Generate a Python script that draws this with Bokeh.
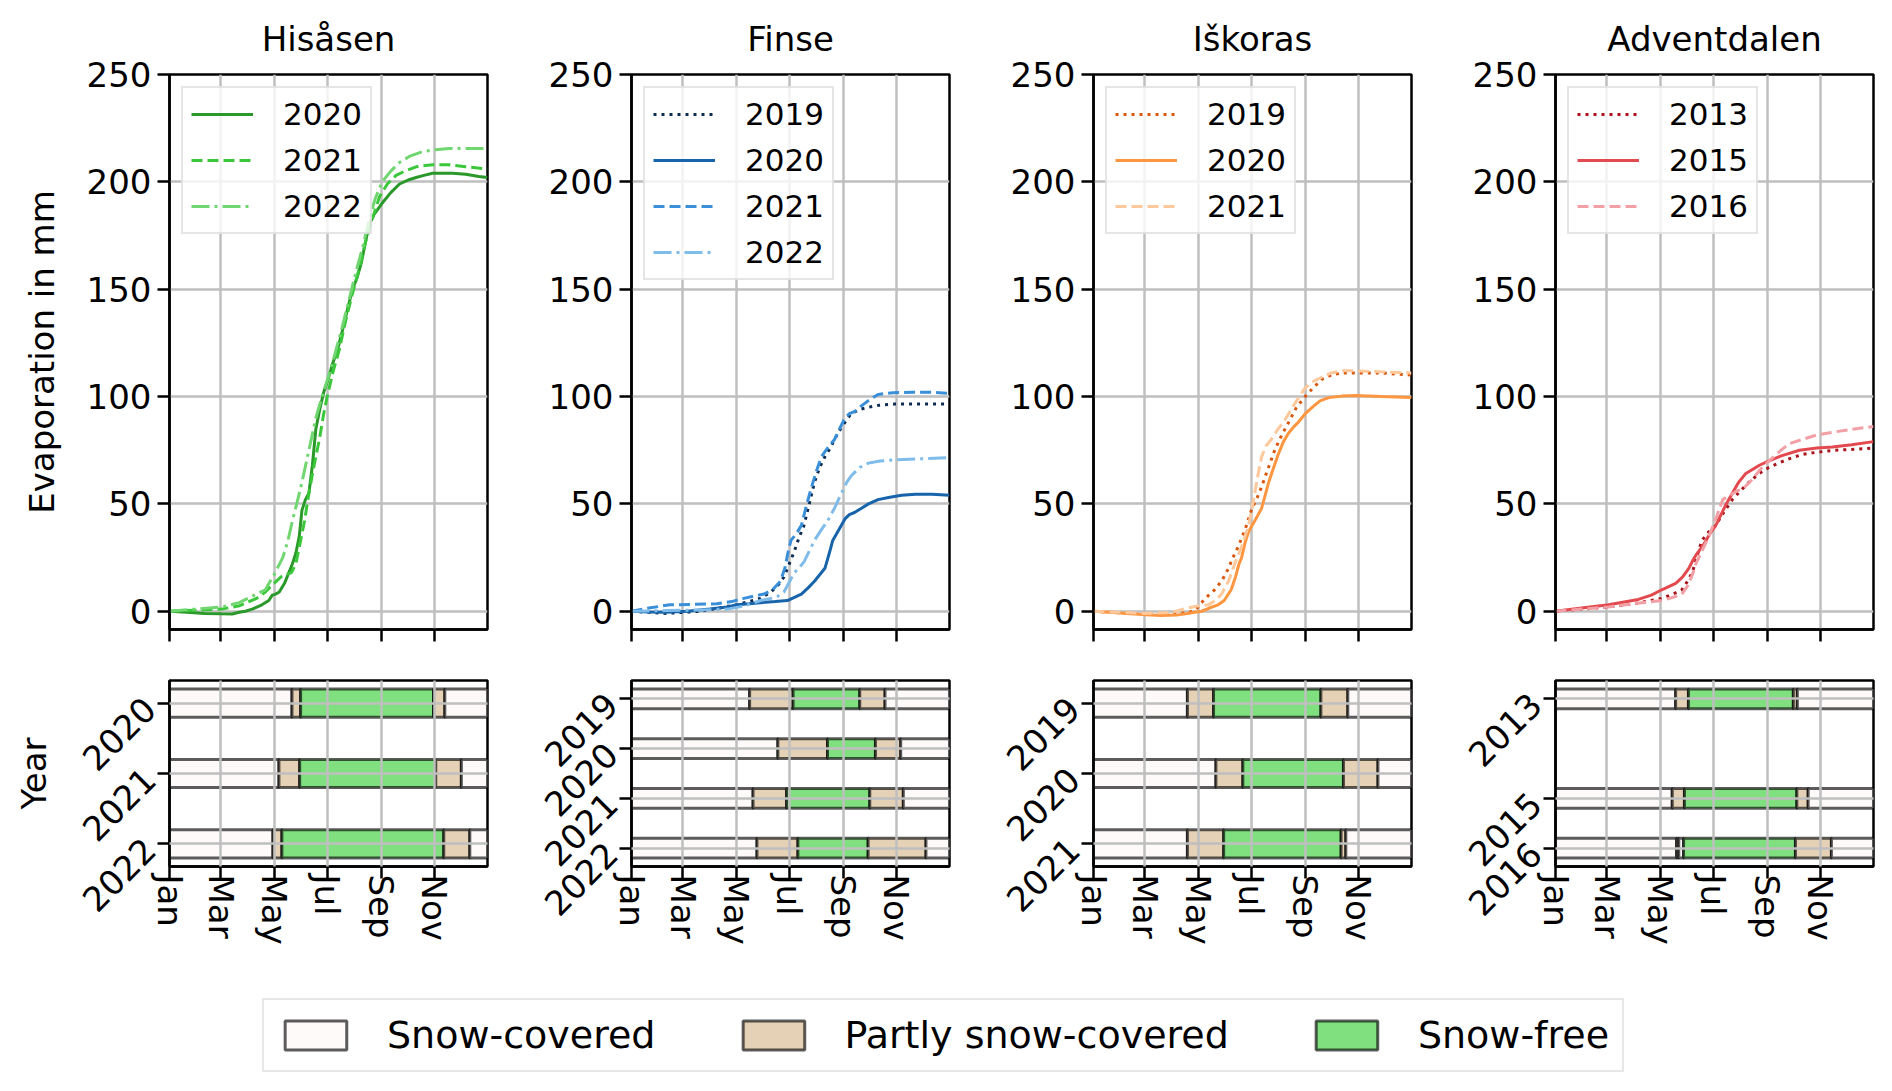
import math
from bokeh.plotting import figure
from bokeh.models import Range1d, FixedTicker, Legend, LegendItem, ColumnDataSource
from bokeh.layouts import row, column
from bokeh.embed import file_html
from bokeh.resources import INLINE

# ---------------- data ----------------
MONTH_TICKS = [0, 59, 120, 181, 243, 304]
MONTH_LABELS = ["Jan", "Mar", "May", "Jul", "Sep", "Nov"]
EVAP_TICKS = [0, 50, 100, 150, 200, 250]
SITES = ["Hisåsen", "Finse", "Iškoras", "Adventdalen"]
STATE_NAMES = ["Snow-covered", "Partly snow-covered", "Snow-free"]

# Hisåsen
HIS_YEARS = [2020, 2021, 2022]
HIS_2020_DAY = [0, 20, 40, 60, 72, 80, 87, 95, 106, 114, 118, 122, 126, 132, 137, 141, 145, 149, 152, 156, 160, 164, 168, 173, 177, 182, 187, 193, 198, 204, 210, 215, 220, 225, 229, 235, 244, 254, 264, 275, 283, 292, 302, 315, 325, 340, 355, 365]
HIS_2020_EVAP = [0, -0.5, -1, -1.2, -1.3, -0.5, 0, 1, 3, 5, 7.5, 8, 9, 13, 18, 22, 27, 35, 47, 52, 55, 68, 85, 95, 102, 108, 115, 122, 130, 140, 150, 155, 162, 172, 180, 185, 190, 195, 199, 201, 202, 203, 204, 204, 204, 203.5, 202.5, 202]
HIS_2021_DAY = [0, 30, 60, 80, 100, 110, 120, 128, 134, 140, 145, 149, 155, 160, 166, 172, 177, 181, 188, 195, 202, 210, 218, 225, 233, 241, 250, 260, 270, 283, 302, 320, 340, 365]
HIS_2021_EVAP = [0, 0.5, 1, 2.5, 6, 9, 13, 16, 17, 18, 22, 30, 42, 55, 68, 80, 92, 100, 112, 122, 135, 148, 160, 172, 183, 193, 199, 203, 205, 207, 208, 208, 207, 206]
HIS_2022_DAY = [0, 30, 60, 80, 95, 110, 120, 130, 136, 141, 146, 152, 160, 168, 175, 183, 190, 198, 206, 214, 222, 229, 236, 244, 254, 264, 276, 290, 305, 321, 340, 365]
HIS_2022_EVAP = [0, 1, 2, 4, 7, 10, 17, 25, 33, 42, 50, 60, 75, 90, 100, 110, 120, 132, 145, 158, 170, 182, 192, 200, 205, 209, 212, 214, 215, 215.5, 215.5, 215.5]

# Finse
FIN_YEARS = [2019, 2020, 2021, 2022]
FIN_2019_DAY = [0, 20, 40, 60, 80, 100, 121, 135, 148, 160, 168, 175, 179, 183, 187, 192, 198, 204, 210, 216, 222, 228, 233, 240, 245, 252, 262, 272, 285, 302, 330, 365]
FIN_2019_EVAP = [0, -0.5, -1, -0.5, 0, 1.5, 3, 4.5, 6, 9, 12, 16, 20, 24, 28, 34, 40, 50, 60, 67, 72, 76, 80, 85, 88, 92, 94, 95, 96, 96.5, 96.5, 96.5]
FIN_2020_DAY = [0, 20, 40, 64, 90, 110, 121, 135, 148, 165, 179, 187, 195, 203, 210, 216, 222, 227, 231, 238, 245, 250, 256, 264, 272, 283, 295, 310, 326, 345, 365]
FIN_2020_EVAP = [0, -0.3, -0.5, 0, 1, 2, 3, 3.5, 4, 4.5, 5, 6.5, 8, 11, 14, 17, 20, 27, 33, 38, 43, 45, 46, 48, 50, 52, 53, 54, 54.5, 54.5, 54]
FIN_2021_DAY = [0, 20, 44, 70, 98, 115, 129, 140, 152, 162, 171, 176, 180, 183, 189, 195, 200, 206, 212, 218, 225, 233, 240, 245, 250, 256, 265, 275, 283, 300, 322, 345, 365]
FIN_2021_EVAP = [0, 1.5, 3, 3.2, 3.5, 4.5, 6, 7, 8, 10, 14, 20, 28, 33, 36, 40, 48, 57, 65, 72, 76, 80, 86, 90, 92, 93, 96, 99, 101, 101.8, 102, 102, 101.5]
FIN_2022_DAY = [0, 40, 80, 110, 130, 148, 160, 168, 175, 179, 183, 187, 192, 198, 204, 210, 218, 225, 233, 241, 247, 252, 262, 272, 285, 302, 330, 365]
FIN_2022_EVAP = [0, 0.3, 0.6, 1, 2.5, 5, 6, 7, 9, 12, 15, 18, 20, 23, 28, 33, 38, 42, 48, 55, 60, 63, 67, 69, 70, 70.5, 71, 71.5]

# Iškoras
ISK_YEARS = [2019, 2020, 2021]
ISK_2019_DAY = [0, 30, 60, 80, 100, 110, 118, 124, 131, 139, 147, 155, 160, 166, 174, 182, 188, 193, 200, 208, 216, 224, 233, 243, 252, 262, 273, 285, 300, 330, 365]
ISK_2019_EVAP = [0, -0.7, -1.3, -1.5, -1, -0.5, 1, 4, 7, 10, 14, 20, 25, 30, 38, 48, 53, 58, 66, 75, 82, 88, 95, 100, 104, 108, 110, 111, 111, 111, 110]
ISK_2020_DAY = [0, 30, 60, 78, 95, 108, 116, 124, 133, 143, 150, 158, 163, 167, 170, 174, 178, 182, 185, 189, 193, 197, 201, 206, 212, 218, 224, 230, 235, 243, 251, 260, 270, 285, 301, 330, 365]
ISK_2020_EVAP = [0, -0.8, -1.6, -2, -1.8, -1, -0.5, 0, 1.5, 3, 5, 10, 16, 22, 25, 32, 37, 40, 42, 45, 48, 54, 60, 66, 73, 79, 83, 86, 88, 92, 95, 98, 99.5, 100.2, 100.5, 100, 99.5]
ISK_2021_DAY = [0, 30, 60, 90, 108, 120, 132, 140, 147, 155, 162, 170, 178, 182, 185, 189, 193, 198, 204, 212, 218, 224, 233, 243, 252, 262, 273, 285, 300, 330, 365]
ISK_2021_EVAP = [0, -0.5, -1, -0.5, 1.5, 2.5, 3, 5, 8, 14, 22, 30, 40, 48, 55, 64, 72, 77, 80, 85, 88, 92, 98, 104, 107, 109, 111, 112, 112, 111.5, 111]

# Adventdalen
ADV_YEARS = [2013, 2015, 2016]
ADV_2013_DAY = [0, 30, 61, 90, 122, 135, 145, 150, 157, 162, 168, 176, 184, 193, 203, 212, 222, 233, 245, 256, 268, 283, 299, 320, 345, 365]
ADV_2013_EVAP = [0, 1, 2, 3.5, 6, 8, 10, 13, 18, 25, 33, 37, 40, 46, 52, 56, 60, 64, 67, 69, 71, 73, 74, 75, 75.5, 76]
ADV_2015_DAY = [0, 30, 61, 95, 110, 122, 130, 138, 146, 153, 158, 161, 170, 177, 184, 190, 196, 203, 210, 218, 226, 234, 245, 260, 280, 300, 318, 340, 365]
ADV_2015_EVAP = [0, 1.5, 3, 5.5, 7.5, 10, 11.5, 13, 16, 20, 24, 26, 31, 36, 40, 45, 50, 55, 60, 64, 66, 68, 70, 72.5, 75, 76, 76.5, 77.5, 79]
ADV_2016_DAY = [0, 30, 61, 90, 122, 135, 145, 152, 158, 161, 168, 176, 184, 192, 200, 208, 215, 225, 235, 245, 256, 268, 283, 299, 320, 345, 365]
ADV_2016_EVAP = [0, 1, 2, 3.5, 5, 6.5, 8, 12, 18, 22, 28, 35, 43, 52, 54, 56, 57, 61, 66, 70, 74, 78, 80, 82, 83.5, 85, 86]

# snow-cover periods (state index: 0 snow-covered, 1 partly, 2 snow-free)
HIS_SEG_YEAR = [2020] * 5 + [2021] * 5 + [2022] * 5
HIS_SEG_START = [0, 140.6, 150.5, 303, 316, 0, 125.6, 149.4, 305.6, 335, 0, 118.7, 129, 314.8, 344.7]
HIS_SEG_END = [140.6, 150.5, 303, 316, 365, 125.6, 149.4, 305.6, 335, 365, 118.7, 129, 314.8, 344.7, 365]
HIS_SEG_STATE = [0, 1, 2, 1, 0] * 3

FIN_SEG_YEAR = [2019] * 5 + [2020] * 5 + [2021] * 5 + [2022] * 5
FIN_SEG_START = [0, 135.6, 185.5, 262, 291, 0, 168, 225, 280, 309, 0, 139.5, 178, 273.5, 312, 0, 144, 191, 271.6, 338]
FIN_SEG_END = [135.6, 185.5, 262, 291, 365, 168, 225, 280, 309, 365, 139.5, 178, 273.5, 312, 365, 144, 191, 271.6, 338, 365]
FIN_SEG_STATE = [0, 1, 2, 1, 0] * 4

ISK_SEG_YEAR = [2019] * 5 + [2020] * 5 + [2021] * 5
ISK_SEG_START = [0, 107.8, 137.8, 261, 291.9, 0, 140.5, 171.4, 286.9, 326.5, 0, 107.8, 149.4, 284.2, 289.6]
ISK_SEG_END = [107.8, 137.8, 261, 291.9, 365, 140.5, 171.4, 286.9, 326.5, 365, 107.8, 149.4, 284.2, 289.6, 365]
ISK_SEG_STATE = [0, 1, 2, 1, 0] * 3

ADV_SEG_YEAR = [2013] * 5 + [2015] * 5 + [2016] * 6
ADV_SEG_START = [0, 137.9, 152.6, 273, 277.6, 0, 134, 148, 277, 290, 0, 139, 141.5, 147, 275.4, 316.7]
ADV_SEG_END = [137.9, 152.6, 273, 277.6, 365, 134, 148, 277, 290, 365, 139, 141.5, 147, 275.4, 316.7, 365]
ADV_SEG_STATE = [0, 1, 2, 1, 0, 0, 1, 2, 1, 0, 0, 1, 0, 2, 1, 0]

# ---------------- styles ----------------
FONT = "DejaVu Sans"
TICK_PX = "34px"
STATE_COLORS = ["#fffafa", "#e5d2b6", "#80e080"]
LINE_DASHES = {"dotted": "3 5", "solid": "solid", "dashed": "11 5", "dashdot": "18 5 3 5"}

SITE_SERIES = [
    [(HIS_2020_DAY, HIS_2020_EVAP, "2020", "#2a992a", "solid"),
     (HIS_2021_DAY, HIS_2021_EVAP, "2021", "#3ac83a", "dashed"),
     (HIS_2022_DAY, HIS_2022_EVAP, "2022", "#70d670", "dashdot")],
    [(FIN_2019_DAY, FIN_2019_EVAP, "2019", "#0d2c54", "dotted"),
     (FIN_2020_DAY, FIN_2020_EVAP, "2020", "#1764ab", "solid"),
     (FIN_2021_DAY, FIN_2021_EVAP, "2021", "#3a8fd9", "dashed"),
     (FIN_2022_DAY, FIN_2022_EVAP, "2022", "#7fbce9", "dashdot")],
    [(ISK_2019_DAY, ISK_2019_EVAP, "2019", "#d9560b", "dotted"),
     (ISK_2020_DAY, ISK_2020_EVAP, "2020", "#fd9640", "solid"),
     (ISK_2021_DAY, ISK_2021_EVAP, "2021", "#fdc89b", "dashed")],
    [(ADV_2013_DAY, ADV_2013_EVAP, "2013", "#a8141b", "dotted"),
     (ADV_2015_DAY, ADV_2015_EVAP, "2015", "#e34a4f", "solid"),
     (ADV_2016_DAY, ADV_2016_EVAP, "2016", "#f2a0a5", "dashed")],
]
SITE_YEARS = [HIS_YEARS, FIN_YEARS, ISK_YEARS, ADV_YEARS]
SITE_SEGS = [
    (HIS_SEG_YEAR, HIS_SEG_START, HIS_SEG_END, HIS_SEG_STATE),
    (FIN_SEG_YEAR, FIN_SEG_START, FIN_SEG_END, FIN_SEG_STATE),
    (ISK_SEG_YEAR, ISK_SEG_START, ISK_SEG_END, ISK_SEG_STATE),
    (ADV_SEG_YEAR, ADV_SEG_START, ADV_SEG_END, ADV_SEG_STATE),
]

FRAME_W = 318
BORDER_L = [169, 110, 110, 110]
BORDER_R = [34, 34, 34, 6]
BAR_H = 0.4


def style(p):
    for ax in p.axis:
        ax.axis_line_width = 2.5
        ax.axis_line_color = "black"
        ax.major_tick_line_width = 2.5
        ax.major_tick_line_color = "black"
        ax.major_tick_out = 12
        ax.major_tick_in = 0
        ax.minor_tick_line_color = None
        ax.major_label_text_font = FONT
        ax.major_label_text_font_size = TICK_PX
        ax.major_label_text_color = "black"
        ax.axis_label_text_font = FONT
        ax.axis_label_text_font_size = TICK_PX
        ax.axis_label_text_font_style = "normal"
        ax.axis_label_text_color = "black"
    p.outline_line_color = "black"
    p.outline_line_width = 2.5
    p.outline_line_alpha = 1.0
    for g in p.grid:
        g.grid_line_color = "#bfbfbf"
        g.grid_line_width = 2.5
    p.background_fill_color = "white"
    p.border_fill_color = "white"


tops = []
bottoms = []
for i, site in enumerate(SITES):
    # ---- evaporation curves ----
    p = figure(frame_width=FRAME_W, frame_height=555,
               min_border_left=BORDER_L[i], min_border_right=BORDER_R[i],
               min_border_top=74, min_border_bottom=25,
               x_range=Range1d(0, 365), y_range=Range1d(-8.5, 250),
               output_backend="svg", toolbar_location=None, title=site)
    style(p)
    p.title.text_font = FONT
    p.title.text_font_size = TICK_PX
    p.title.text_font_style = "normal"
    p.title.text_color = "black"
    p.title.align = "center"
    p.title.standoff = 31
    p.xaxis.ticker = FixedTicker(ticks=MONTH_TICKS)
    p.xaxis.major_label_text_font_size = "1px"
    p.xaxis.major_label_text_color = None
    p.xaxis.major_label_standoff = 0
    p.yaxis.ticker = FixedTicker(ticks=EVAP_TICKS)
    p.yaxis.major_label_standoff = 6
    if i == 0:
        p.yaxis.axis_label = "Evaporation in mm"
        p.yaxis.axis_label_standoff = 22
    items = []
    for days, evap, label, color, dash in SITE_SERIES[i]:
        r = p.line(days, evap, line_color=color, line_width=3, line_dash=LINE_DASHES[dash])
        items.append(LegendItem(label=label, renderers=[r]))
    leg = Legend(items=items, location="top_left", margin=12, padding=8,
                 spacing=10, glyph_width=62, glyph_height=30, label_height=36,
                 label_standoff=30, label_text_font=FONT, label_text_font_size="31px",
                 label_text_color="black",
                 border_line_color="#cccccc", border_line_width=2.5,
                 background_fill_alpha=0.8)
    p.add_layout(leg)
    tops.append(p)

    # ---- snow-cover bars ----
    years = SITE_YEARS[i]
    span = max(years) - min(years)
    m = BAR_H / 2 + 0.05 * (span + BAR_H)
    q = figure(frame_width=FRAME_W, frame_height=186,
               min_border_left=BORDER_L[i], min_border_right=BORDER_R[i],
               min_border_top=26, min_border_bottom=100,
               x_range=Range1d(0, 365), y_range=Range1d(max(years) + m, min(years) - m),
               output_backend="svg", toolbar_location=None)
    style(q)
    sy, ss, se, st = SITE_SEGS[i]
    src = ColumnDataSource(dict(
        left=ss, right=se,
        top=[y - BAR_H / 2 for y in sy], bottom=[y + BAR_H / 2 for y in sy],
        color=[STATE_COLORS[k] for k in st]))
    q.quad(left="left", right="right", top="top", bottom="bottom", source=src,
           fill_color="color", line_color="black", line_alpha=0.64, line_width=3)
    q.xaxis.ticker = FixedTicker(ticks=MONTH_TICKS)
    q.xaxis.major_label_overrides = {t: l for t, l in zip(MONTH_TICKS, MONTH_LABELS)}
    q.xaxis.major_label_orientation = "vertical"
    q.xaxis.major_label_standoff = -4
    q.xgrid.ticker = FixedTicker(ticks=MONTH_TICKS[1:])
    q.yaxis.ticker = FixedTicker(ticks=years)
    q.yaxis.major_label_orientation = math.pi / 4
    q.yaxis.major_label_standoff = 8
    q.xgrid.level = "overlay"
    q.ygrid.level = "overlay"
    if i == 0:
        q.yaxis.axis_label = "Year"
        q.yaxis.axis_label_standoff = 14
    bottoms.append(q)

# ---- shared legend (proxy swatches kept outside the visible range) ----
lp = figure(frame_width=1886, frame_height=82, min_border_left=0, min_border_right=0,
            min_border_top=28, min_border_bottom=0,
            x_range=Range1d(0, 1), y_range=Range1d(0, 1),
            x_axis_type=None, y_axis_type=None,
            output_backend="svg", toolbar_location=None)
lp.outline_line_color = None
lp.background_fill_color = "white"
lp.border_fill_color = "white"
proxy = ColumnDataSource(dict(l=[-3, -3, -3], r=[-2, -2, -2], b=[-3, -3, -3], t=[-2, -2, -2],
                              c=STATE_COLORS, name=STATE_NAMES))
rp = lp.quad(left="l", right="r", bottom="b", top="t", source=proxy, fill_color="c",
             line_color="black", line_alpha=0.64, line_width=3)
litems = [LegendItem(label=name, renderers=[rp], index=k) for k, name in enumerate(STATE_NAMES)]
bleg = Legend(items=litems, orientation="horizontal", location="center",
              padding=13, spacing=79, glyph_width=77, glyph_height=36,
              label_standoff=33, label_text_font=FONT, label_text_font_size="38px",
              label_text_color="black",
              border_line_color="#d0d0d0", border_line_width=2.5, margin=0)
lp.add_layout(bleg)

layout = column(row(*tops), row(*bottoms), lp)
open("out.html", "w").write(file_html(layout, INLINE))
